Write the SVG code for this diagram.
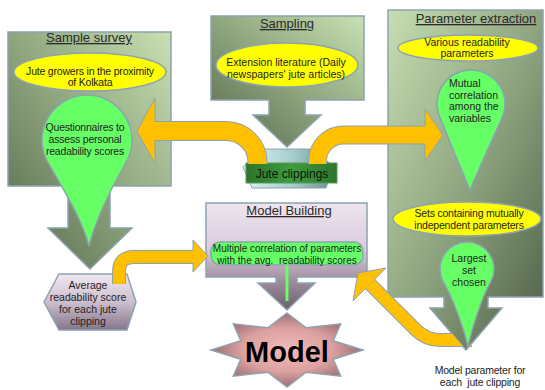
<svg xmlns="http://www.w3.org/2000/svg" width="545" height="390" viewBox="0 0 545 390">
<style>
text{font-family:"Liberation Sans",Arial,sans-serif;fill:#1e1e1e;text-anchor:middle}
.title{font-size:13px;text-decoration:underline;fill:#2a2a2a}
.t{font-size:10.5px}
.ts{font-size:10.5px;letter-spacing:-0.2px}
.callout{stroke:#8DA3B0;stroke-width:1.5}
.yel{fill:#ffff00;stroke:#8DA3B0;stroke-width:1.5}
.grn{fill:#66ff66;stroke:#8DA3B0;stroke-width:1.5}
.oout{fill:none;stroke:#8DA3B0}
.oin{fill:none;stroke:#FFC000}
.head{fill:#FFC000;stroke:#8DA3B0;stroke-width:1}
</style>
<defs>
<linearGradient id="gSurvey" x1="0" y1="1" x2="1" y2="0">
<stop offset="0" stop-color="#55674b"/><stop offset="0.5" stop-color="#8ea57e"/><stop offset="1" stop-color="#c8e0b3"/>
</linearGradient>
<linearGradient id="gParam" x1="0" y1="0" x2="1" y2="1">
<stop offset="0" stop-color="#c6deb2"/><stop offset="0.5" stop-color="#8fa580"/><stop offset="1" stop-color="#4e5e46"/>
</linearGradient>
<linearGradient id="gMB" x1="0" y1="0" x2="0" y2="1">
<stop offset="0" stop-color="#eee5ef"/><stop offset="0.45" stop-color="#d9cadb"/><stop offset="0.7" stop-color="#a393a4"/><stop offset="1" stop-color="#6d5f6e"/>
</linearGradient>
<linearGradient id="gHex" x1="0" y1="0" x2="0" y2="1">
<stop offset="0" stop-color="#f0e7f0"/><stop offset="0.5" stop-color="#cdbfce"/><stop offset="1" stop-color="#85768a"/>
</linearGradient>
<linearGradient id="gJute" x1="0" y1="0" x2="1" y2="0">
<stop offset="0" stop-color="#d9f5f5"/><stop offset="0.55" stop-color="#a6cccc"/><stop offset="1" stop-color="#5f8f8f"/>
</linearGradient>
<linearGradient id="gJuteG" x1="0" y1="0" x2="1" y2="0">
<stop offset="0" stop-color="#2c752c"/><stop offset="0.5" stop-color="#3f9c3f"/><stop offset="1" stop-color="#2c752c"/>
</linearGradient>
<radialGradient id="gStar" cx="0.5" cy="0.5" r="0.5">
<stop offset="0" stop-color="#f4bcbc"/><stop offset="0.6" stop-color="#dba0a0"/><stop offset="1" stop-color="#9c6e72"/>
</radialGradient>
<clipPath id="clipHead">
<path clip-rule="evenodd" d="M0 0H545V390H0Z M430 308L466 350L502 308Z"/>
</clipPath>
</defs>

<g id="sample-survey">
<path class="callout" fill="url(#gSurvey)" d="M8 32H171V186H110V228H132L90 269L48 228H68V186H8Z"/>
<text class="title" x="89" y="42">Sample survey</text>
<ellipse class="yel" cx="90" cy="72" rx="76" ry="19"/>
<text class="ts" x="90" y="75">Jute growers in the proximity</text>
<text class="ts" x="90" y="86">of Kolkata</text>
<path class="grn" d="M48 162.5A45 45 0 1 1 126 162.5C112.5 185.9 95.75 219.5 89 246C82.25 219.5 61.5 185.9 48 162.5Z"/>
<text class="ts" x="85" y="131">Questionnaires to</text>
<text class="ts" x="85" y="143">assess personal</text>
<text class="ts" x="85" y="155">readability scores</text>
</g>

<g id="sampling">
<path class="callout" fill="url(#gSurvey)" d="M211 16H364V100H305V115H321L287 147L253 115H269V100H211Z"/>
<text class="title" x="287" y="28">Sampling</text>
<ellipse class="yel" cx="287" cy="65" rx="71" ry="22"/>
<text class="t" x="286" y="66">Extension literature (Daily</text>
<text class="t" x="286" y="77.5">newspapers' jute articles)</text>
</g>

<g id="jute-clippings">
<polygon points="265,149 310,149 334,166 326,188 252,188 243,167" fill="url(#gJute)" stroke="#8DA3B0" stroke-width="1"/>
<rect x="246" y="163" width="91" height="20" fill="url(#gJuteG)" stroke="#5a9a5a" stroke-width="1"/>
<text x="292" y="178" style="font-size:12px;fill:#111">Jute clippings</text>
</g>

<g id="parameter-extraction">
<path class="callout" fill="url(#gParam)" d="M388 10H543V297H488V308H502L466 350L430 308H444V297H388Z"/>
<text class="title" x="476" y="23">Parameter extraction</text>
<ellipse class="yel" cx="468" cy="48" rx="70" ry="13"/>
<text class="t" x="467" y="46">Various readability</text>
<text class="t" x="467" y="57">parameters</text>
<path class="grn" d="M439.8 117.4A34 34 0 1 1 502.2 117.4Q485 155 470 190Q455 155 439.8 117.4Z"/>
<text class="t" x="449" y="87" style="text-anchor:start">Mutual</text>
<text class="t" x="449" y="98.5" style="text-anchor:start">correlation</text>
<text class="t" x="449" y="110" style="text-anchor:start">among the</text>
<text class="t" x="449" y="121.5" style="text-anchor:start">variables</text>
<ellipse class="yel" cx="467" cy="219" rx="74" ry="17"/>
<text class="ts" x="469" y="217">Sets containing mutually</text>
<text class="ts" x="469" y="229">independent parameters</text>
<path class="grn" d="M443.6 282.5A27 27 0 1 1 490.4 282.5C482.3 296.5 472 327.5 468 347C464 327.5 451.7 296.5 443.6 282.5Z"/>
<text class="t" x="469" y="262">Largest</text>
<text class="t" x="469" y="274">set</text>
<text class="t" x="469" y="285.5">chosen</text>
</g>

<g id="model-parameter-label">
<text class="ts" x="480" y="374">Model parameter for</text>
<text class="ts" x="480" y="386" xml:space="preserve">each  jute clipping</text>
</g>

<g id="average-score">
<polygon points="59,274 127,274 136,302 127,330 59,330 44,302" fill="url(#gHex)" stroke="#8DA3B0" stroke-width="1.5"/>
<text class="t" x="88" y="289">Average</text>
<text class="t" x="88" y="301">readability score</text>
<text class="t" x="88" y="313">for each jute</text>
<text class="t" x="88" y="325">clipping</text>
</g>

<g id="model-building">
<path class="callout" fill="url(#gMB)" d="M206 203H367V277H297V283H315L287 310L258 283H276V277H206Z"/>
<text class="title" x="289" y="215">Model Building</text>
<rect x="211" y="242" width="152" height="23" rx="9" class="grn"/>
<line x1="287" y1="265" x2="287" y2="301" stroke="#66ff66" stroke-width="3"/>
<text x="287" y="252" style="font-size:10px">Multiple correlation of parameters</text>
<text x="287" y="264" style="font-size:10px" xml:space="preserve">with the avg.  readability scores</text>
</g>

<g id="model">
<polygon points="287,313 306.1,327.8 340.7,323.8 333.2,340.8 363,350 333.2,359.2 340.7,376.2 306.1,372.2 287,387 267.9,372.2 233.3,376.2 240.8,359.2 211,350 240.8,340.8 233.3,323.8 267.9,327.8" fill="url(#gStar)" stroke="#8DA3B0" stroke-width="1.5"/>
<text x="287" y="362" style="font-size:29px;font-weight:bold;fill:#000">Model</text>
</g>

<g id="connectors">
<g id="c-jute-survey">
<path class="oout" stroke-width="20" d="M257.5 164V162.5A31.5 31.5 0 0 0 226 131H154"/>
<polygon class="head" points="155,98 137,131 155,164"/>
<path class="oin" stroke-width="18" d="M257.5 164V162.5A31.5 31.5 0 0 0 226 131H154"/>
</g>
<g id="c-jute-param">
<path class="oout" stroke-width="19" d="M317.5 164V161A26 26 0 0 1 343.5 135H426"/>
<polygon class="head" points="425,109 443,135 425,161"/>
<path class="oin" stroke-width="17" d="M317.5 164V161A26 26 0 0 1 343.5 135H426"/>
</g>
<g id="c-average-model">
<path class="oout" stroke-width="14" d="M119 284V272Q119 257 134 257H194"/>
<polygon class="head" points="193,240 208,256 193,272"/>
<path class="oin" stroke-width="12" d="M119 284V272Q119 257 134 257H194"/>
</g>
<g id="c-param-model" clip-path="url(#clipHead)">
<path class="oout" stroke-width="14" d="M472 340H440Q426 340 416 330L370 284"/>
<polygon class="head" points="386,268 358,273 353,301"/>
<path class="oin" stroke-width="12" d="M472 340H440Q426 340 416 330L370 284"/>
</g>
</g>
</svg>
